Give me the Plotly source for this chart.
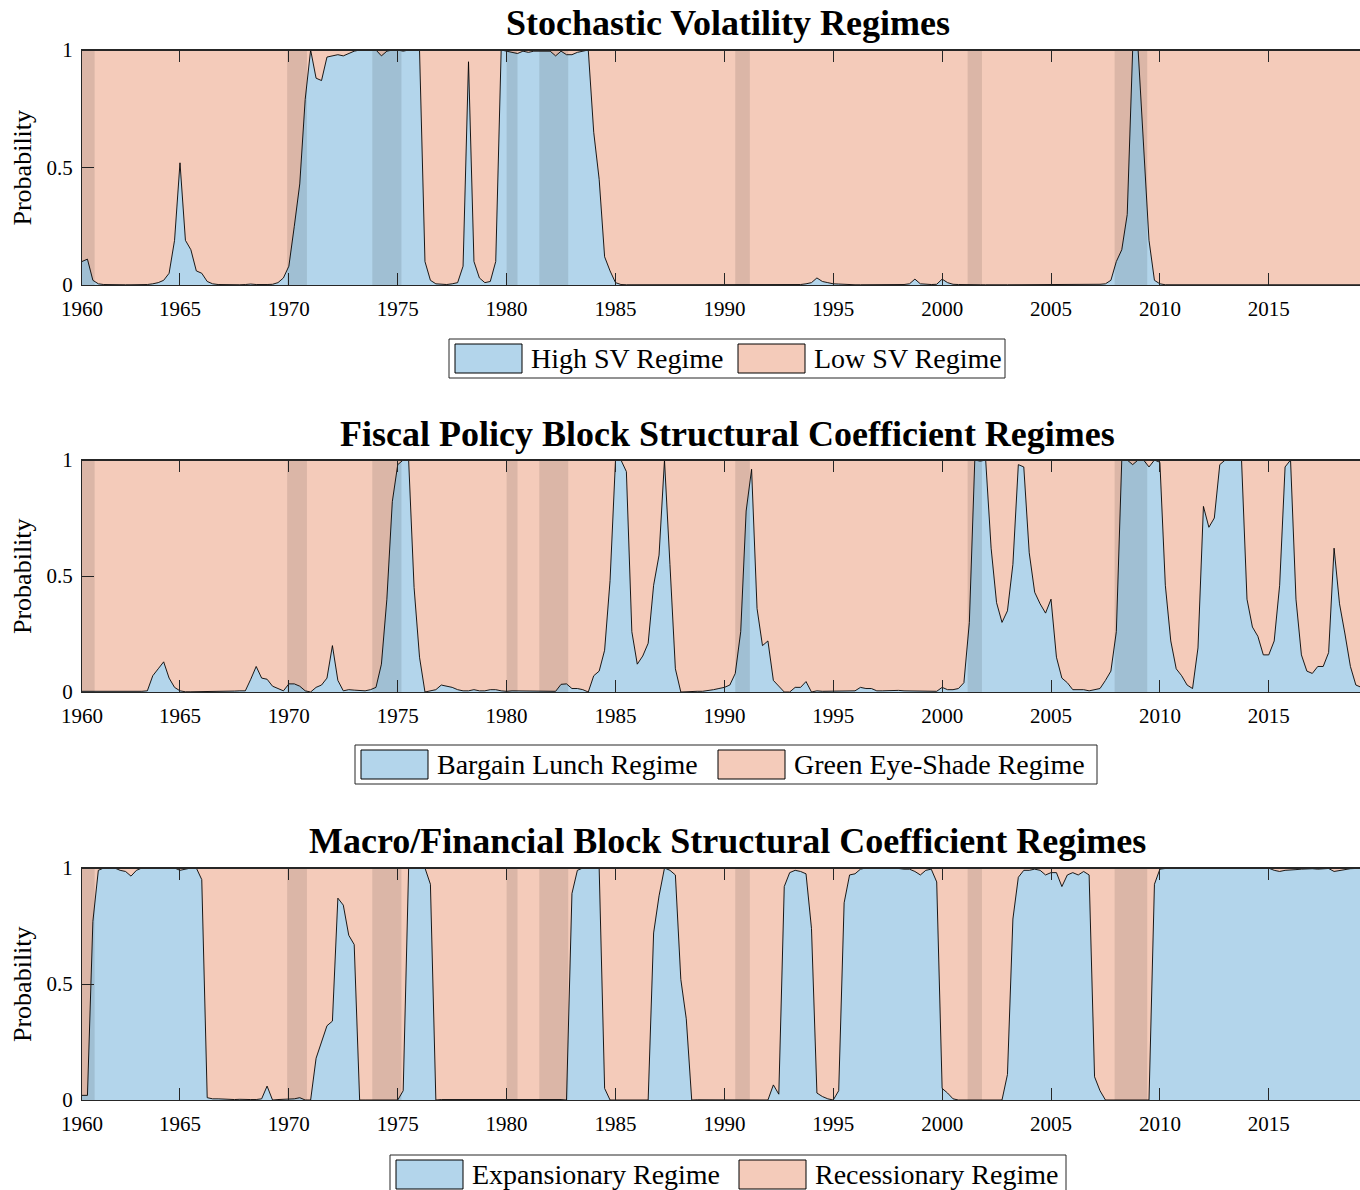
import numpy as np
import plotly.graph_objects as go

# ---------------- data (quarterly, first obs 1960Q3) ----------------
high_sv = [
    0.10, 0.11,                      # 1960 Q3-Q4
    0.02, 0.005, 0.002, 0.001,       # 1961
    0.001, 0.001, 0.001, 0.001,      # 1962
    0.001, 0.002, 0.002, 0.005,      # 1963
    0.01, 0.02, 0.05, 0.19,          # 1964
    0.52, 0.19, 0.15, 0.06,          # 1965
    0.05, 0.015, 0.005, 0.002,       # 1966
    0.001, 0.001, 0.002, 0.001,      # 1967
    0.002, 0.004, 0.002, 0.001,      # 1968
    0.002, 0.003, 0.01, 0.03,        # 1969
    0.08, 0.25, 0.43, 0.79,          # 1970
    1.0, 0.88, 0.87, 0.97,           # 1971
    0.975, 0.98, 0.975, 0.985,       # 1972
    0.995, 1.0, 1.0, 1.0,            # 1973
    1.0, 0.975, 0.995, 1.0,          # 1974
    1.0, 0.995, 1.0, 1.0,            # 1975
    1.0, 0.10, 0.02, 0.005,          # 1976
    0.002, 0.002, 0.005, 0.01,       # 1977
    0.08, 0.95, 0.10, 0.03,          # 1978
    0.01, 0.015, 0.10, 1.0,          # 1979
    0.995, 0.99, 0.985, 0.995,       # 1980
    0.99, 0.995, 0.995, 0.995,       # 1981
    0.995, 0.975, 0.995, 0.98,       # 1982
    0.98, 0.99, 0.995, 1.0,          # 1983
    0.65, 0.45, 0.12, 0.06,          # 1984
    0.01, 0.002, 0.001, 0.001,       # 1985
    0.001, 0.001, 0.001, 0.001,      # 1986
    0.001, 0.001, 0.001, 0.002,      # 1987
    0.002, 0.003, 0.004, 0.003,      # 1988
    0.001, 0.001, 0.001, 0.001,      # 1989
    0.001, 0.001, 0.001, 0.001,      # 1990
    0.001, 0.002, 0.001, 0.002,      # 1991
    0.002, 0.004, 0.002, 0.001,      # 1992
    0.001, 0.001, 0.002, 0.005,      # 1993
    0.01, 0.03, 0.015, 0.01,         # 1994
    0.005, 0.004, 0.002, 0.001,      # 1995
    0.001, 0.001, 0.001, 0.001,      # 1996
    0.001, 0.001, 0.001, 0.001,      # 1997
    0.001, 0.002, 0.005, 0.025,      # 1998
    0.005, 0.002, 0.002, 0.003,      # 1999
    0.025, 0.01, 0.003, 0.002,       # 2000
    0.001, 0.001, 0.001, 0.001,      # 2001
    0.001, 0.002, 0.001, 0.001,      # 2002
    0.001, 0.001, 0.002, 0.001,      # 2003
    0.001, 0.001, 0.001, 0.001,      # 2004
    0.001, 0.002, 0.001, 0.001,      # 2005
    0.001, 0.001, 0.001, 0.001,      # 2006
    0.002, 0.003, 0.005, 0.02,       # 2007
    0.10, 0.15, 0.30, 1.0,           # 2008
    1.0, 0.60, 0.19, 0.02,           # 2009
    0.005, 0.001, 0.001, 0.001,      # 2010
    0.001, 0.001, 0.001, 0.001,      # 2011
    0.001, 0.001, 0.002, 0.001,      # 2012
    0.003, 0.002, 0.001, 0.001,      # 2013
    0.001, 0.001, 0.001, 0.001,      # 2014
    0.001, 0.001, 0.001, 0.002,      # 2015
    0.001, 0.001, 0.001, 0.001,      # 2016
    0.002, 0.004, 0.003, 0.001,      # 2017
    0.001, 0.001, 0.002, 0.001,      # 2018
    0.001, 0.001,                    # 2019 Q1-Q2
]

bargain_lunch = [
    0.003, 0.003,                    # 1960
    0.002, 0.001, 0.001, 0.003,      # 1961
    0.002, 0.001, 0.003, 0.004,      # 1962
    0.004, 0.003, 0.005, 0.07,       # 1963
    0.10, 0.13, 0.06, 0.02,          # 1964
    0.005, 0.001, 0.001, 0.001,      # 1965
    0.001, 0.001, 0.002, 0.001,      # 1966
    0.001, 0.002, 0.004, 0.005,      # 1967
    0.005, 0.055, 0.11, 0.06,        # 1968
    0.055, 0.025, 0.015, 0.005,      # 1969
    0.035, 0.035, 0.025, 0.005,      # 1970
    0.0, 0.02, 0.03, 0.06,           # 1971
    0.20, 0.05, 0.005, 0.01,         # 1972
    0.008, 0.005, 0.005, 0.01,       # 1973
    0.02, 0.12, 0.40, 0.82,          # 1974
    0.98, 1.0, 1.0, 0.45,            # 1975
    0.15, 0.0, 0.005, 0.01,          # 1976
    0.03, 0.025, 0.02, 0.01,         # 1977
    0.005, 0.005, 0.01, 0.005,       # 1978
    0.005, 0.01, 0.01, 0.005,        # 1979
    0.003, 0.005, 0.005, 0.003,      # 1980
    0.005, 0.004, 0.005, 0.003,      # 1981
    0.003, 0.003, 0.033, 0.035,      # 1982
    0.015, 0.015, 0.01, 0.0,         # 1983
    0.07, 0.09, 0.18, 0.48,          # 1984
    1.0, 1.0, 0.95, 0.26,            # 1985
    0.12, 0.155, 0.21, 0.46,         # 1986
    0.59, 1.0, 0.55, 0.10,           # 1987
    0.0, 0.002, 0.002, 0.003,        # 1988
    0.003, 0.005, 0.01, 0.015,       # 1989
    0.02, 0.03, 0.08, 0.26,          # 1990
    0.78, 0.96, 0.36, 0.20,          # 1991
    0.22, 0.05, 0.025, 0.0,          # 1992
    0.0, 0.02, 0.02, 0.045,          # 1993
    0.0, 0.005, 0.003, 0.003,        # 1994
    0.005, 0.003, 0.004, 0.005,      # 1995
    0.005, 0.02, 0.015, 0.015,       # 1996
    0.005, 0.005, 0.006, 0.008,      # 1997
    0.007, 0.005, 0.005, 0.005,      # 1998
    0.003, 0.003, 0.003, 0.003,      # 1999
    0.02, 0.01, 0.01, 0.015,         # 2000
    0.04, 0.30, 1.0, 0.995,          # 2001
    1.0, 0.62, 0.385, 0.30,          # 2002
    0.35, 0.55, 0.98, 0.97,          # 2003
    0.60, 0.43, 0.38, 0.34,          # 2004
    0.40, 0.15, 0.06, 0.04,          # 2005
    0.01, 0.01, 0.01, 0.005,         # 2006
    0.01, 0.015, 0.05, 0.09,         # 2007
    0.26, 1.0, 1.0, 0.98,            # 2008
    1.0, 1.0, 0.97, 1.0,             # 2009
    0.99, 0.46, 0.22, 0.10,          # 2010
    0.07, 0.03, 0.015, 0.19,         # 2011
    0.80, 0.71, 0.75, 0.98,          # 2012
    1.0, 1.0, 1.0, 1.0,              # 2013
    0.40, 0.28, 0.24, 0.16,          # 2014
    0.16, 0.22, 0.46, 0.97,          # 2015
    1.0, 0.40, 0.16, 0.09,           # 2016
    0.08, 0.11, 0.11, 0.17,          # 2017
    0.62, 0.38, 0.25, 0.11,          # 2018
    0.03, 0.02,                      # 2019
]

expansionary = [
    0.02, 0.02,                      # 1960
    0.77, 0.99, 1.0, 1.0,            # 1961
    1.0, 0.99, 0.985, 0.965,         # 1962
    0.99, 1.0, 1.0, 1.0,             # 1963
    1.0, 1.0, 1.0, 1.0,              # 1964
    0.99, 0.995, 1.0, 1.0,           # 1965
    0.95, 0.01, 0.005, 0.005,        # 1966
    0.003, 0.002, 0.002, 0.003,      # 1967
    0.004, 0.002, 0.002, 0.005,      # 1968
    0.06, 0.0, 0.002, 0.002,         # 1969
    0.002, 0.005, 0.01, 0.0,         # 1970
    0.0, 0.18, 0.25, 0.32,           # 1971
    0.34, 0.87, 0.84, 0.71,          # 1972
    0.67, 0.0, 0.0, 0.0,             # 1973
    0.0, 0.0, 0.0, 0.0,              # 1974
    0.0, 0.04, 1.0, 1.0,             # 1975
    1.0, 1.0, 0.93, 0.0,             # 1976
    0.002, 0.002, 0.003, 0.003,      # 1977
    0.002, 0.002, 0.002, 0.002,      # 1978
    0.002, 0.002, 0.002, 0.002,      # 1979
    0.003, 0.002, 0.002, 0.002,      # 1980
    0.003, 0.003, 0.005, 0.003,      # 1981
    0.002, 0.002, 0.002, 0.0,        # 1982
    0.89, 0.99, 1.0, 1.0,            # 1983
    1.0, 1.0, 0.05, 0.0,             # 1984
    0.0, 0.0, 0.001, 0.001,          # 1985
    0.001, 0.001, 0.0, 0.72,         # 1986
    0.88, 1.0, 0.99, 0.97,           # 1987
    0.52, 0.35, 0.0, 0.001,          # 1988
    0.001, 0.001, 0.001, 0.001,      # 1989
    0.002, 0.001, 0.001, 0.003,      # 1990
    0.002, 0.002, 0.001, 0.002,      # 1991
    0.0, 0.065, 0.025, 0.92,         # 1992
    0.98, 0.99, 0.985, 0.975,        # 1993
    0.74, 0.03, 0.015, 0.005,        # 1994
    0.0, 0.04, 0.85, 0.97,           # 1995
    0.975, 0.995, 1.0, 1.0,          # 1996
    1.0, 1.0, 1.0, 0.998,            # 1997
    0.998, 0.995, 0.995, 0.985,      # 1998
    0.97, 0.99, 0.995, 0.94,         # 1999
    0.05, 0.03, 0.005, 0.0,          # 2000
    0.0, 0.0, 0.0, 0.0,              # 2001
    0.0, 0.0, 0.0, 0.0,              # 2002
    0.11, 0.78, 0.96, 0.99,          # 2003
    0.99, 0.995, 0.99, 0.97,         # 2004
    0.98, 0.98, 0.92, 0.97,          # 2005
    0.98, 0.97, 0.985, 0.97,         # 2006
    0.10, 0.04, 0.0, 0.0,            # 2007
    0.0, 0.0, 0.0, 0.0,              # 2008
    0.0, 0.0, 0.0, 0.93,             # 2009
    0.995, 0.998, 0.998, 0.999,      # 2010
    0.999, 0.999, 0.998, 0.999,      # 2011
    0.999, 0.999, 0.998, 0.999,      # 2012
    0.999, 0.998, 0.999, 0.997,      # 2013
    0.998, 0.999, 0.999, 0.998,      # 2014
    0.999, 0.99, 0.985, 0.99,        # 2015
    0.99, 0.993, 0.995, 0.997,       # 2016
    0.997, 0.995, 0.997, 0.998,      # 2017
    0.985, 0.99, 0.995, 0.997,       # 2018
    0.998, 0.999,                    # 2019
]

first_quarter = 1960.5
assert len(high_sv) == len(bargain_lunch) == len(expansionary), (
    len(high_sv), len(bargain_lunch), len(expansionary))

# NBER recessions (decimal years)
rec_start = [1960.25, 1969.92, 1973.83, 1980.0, 1981.5, 1990.5, 2001.17, 2007.92]
rec_end = [1961.08, 1970.83, 1975.17, 1980.5, 1982.83, 1991.17, 2001.83, 2009.42]

tick_vals = [1960.5, 1965, 1970, 1975, 1980, 1985, 1990, 1995, 2000, 2005, 2010, 2015]
tick_text = ["1960", "1965", "1970", "1975", "1980", "1985", "1990", "1995",
             "2000", "2005", "2010", "2015"]

panel_titles = ["Stochastic Volatility Regimes",
                "Fiscal Policy Block Structural Coefficient Regimes",
                "Macro/Financial Block Structural Coefficient Regimes"]
legend_names = [("High SV Regime", "Low SV Regime"),
                ("Bargain Lunch Regime", "Green Eye-Shade Regime"),
                ("Expansionary Regime", "Recessionary Regime")]
series = [high_sv, bargain_lunch, expansionary]

# ---------------- styling ----------------
W, H = 1360, 1190
ML, MR, MT, MB = 82, 0, 50, 90
PW, PH = W - ML - MR, H - MT - MB
FONT = "Liberation Serif"
BLUE = "rgb(179,213,235)"
PINK = "rgb(244,203,186)"
AXC = "#262626"
X_RANGE = [1960.5, 2019.19]

def px_x(px):
    return (px - ML) / PW

def px_y(py):
    return (H - MB - py) / PH

panel_px = [(50, 285), (460, 692), (868, 1100)]
title_py = [23, 434, 841]
legend_px = [
    dict(box=(449, 1005, 339, 378), s1=455, t1=529, s2=738, t2=812),
    dict(box=(355, 1097, 745, 784), s1=361, t1=435, s2=718, t2=792),
    dict(box=(390, 1066, 1155, 1194), s1=396, t1=470, s2=739, t2=813),
]
SW = 67  # swatch width px

dates = first_quarter + 0.25 * np.arange(len(high_sv))

fig = go.Figure()
shapes = []
annotations = []

for i, (vals, names) in enumerate(zip(series, legend_names)):
    k = "" if i == 0 else str(i + 1)
    xa, ya = "x" + k, "y" + k
    p = np.array(vals, dtype=float)
    fig.add_trace(go.Scatter(
        x=dates, y=p, xaxis=xa, yaxis=ya, stackgroup="g%d" % i,
        mode="lines", line=dict(color="black", width=0.9),
        fillcolor=BLUE, name=names[0], showlegend=False, hoverinfo="skip"))
    fig.add_trace(go.Scatter(
        x=dates, y=1.0 - p, xaxis=xa, yaxis=ya, stackgroup="g%d" % i,
        mode="lines", line=dict(color="black", width=0.9),
        fillcolor=PINK, name=names[1], showlegend=False, hoverinfo="skip"))

    top, bot = panel_px[i]
    dom = [px_y(bot), px_y(top)]
    axis_x = dict(domain=[0, 1], range=X_RANGE, anchor=ya,
                  tickmode="array", tickvals=tick_vals, ticktext=tick_text,
                  ticks="inside", ticklen=12, tickwidth=1, tickcolor=AXC,
                  showline=True, linecolor=AXC, linewidth=1, mirror="ticks",
                  showgrid=False, zeroline=False, ticklabelstandoff=5,
                  tickfont=dict(family=FONT, size=21, color="black"))
    axis_y = dict(domain=dom, range=[0, 1], anchor=xa,
                  tickmode="array", tickvals=[0, 0.5, 1], ticktext=["0", "0.5", "1"],
                  ticks="inside", ticklen=12, tickwidth=1, tickcolor=AXC,
                  showline=True, linecolor=AXC, linewidth=1, mirror=False,
                  showgrid=False, zeroline=False, ticklabelstandoff=4,
                  tickfont=dict(family=FONT, size=21, color="black"))
    fig.update_layout(**{"xaxis" + k: axis_x, "yaxis" + k: axis_y})

    # recession shading
    for s, e in zip(rec_start, rec_end):
        shapes.append(dict(type="rect", xref=xa, yref=ya + " domain",
                           x0=max(s, X_RANGE[0]), x1=e, y0=0, y1=1,
                           fillcolor="rgba(0,0,0,0.1)", line=dict(width=0),
                           layer="above"))
    # heavier top frame
    shapes.append(dict(type="line", xref=xa + " domain", yref=ya + " domain",
                       x0=0, x1=1, y0=1, y1=1, line=dict(color=AXC, width=2),
                       layer="above"))

    # panel title
    annotations.append(dict(text="<b>%s</b>" % panel_titles[i], xref="paper", yref="paper",
                            x=px_x(727.5), y=px_y(title_py[i]), xanchor="center",
                            yanchor="middle", showarrow=False,
                            font=dict(family=FONT, size=36, color="black")))
    # y label
    annotations.append(dict(text="Probability", xref="paper", yref="paper",
                            x=px_x(22), y=px_y((top + bot) / 2), xanchor="center",
                            yanchor="middle", textangle=-90, showarrow=False,
                            font=dict(family=FONT, size=26, color="black")))

    # legend box
    lg = legend_px[i]
    bx0, bx1, by0, by1 = lg["box"]
    shapes.append(dict(type="rect", xref="paper", yref="paper",
                       x0=px_x(bx0), x1=px_x(bx1), y0=px_y(by1), y1=px_y(by0),
                       fillcolor="white", line=dict(color=AXC, width=1), layer="above"))
    sy0, sy1 = by0 + 5, by1 - 5
    for sx, col in ((lg["s1"], BLUE), (lg["s2"], PINK)):
        shapes.append(dict(type="rect", xref="paper", yref="paper",
                           x0=px_x(sx), x1=px_x(sx + SW), y0=px_y(sy1), y1=px_y(sy0),
                           fillcolor=col, line=dict(color="black", width=1), layer="above"))
    ymid = px_y((by0 + by1) / 2)
    for tx, name in ((lg["t1"], names[0]), (lg["t2"], names[1])):
        annotations.append(dict(text=name, xref="paper", yref="paper",
                                x=px_x(tx), y=ymid, xanchor="left", yanchor="middle",
                                showarrow=False,
                                font=dict(family=FONT, size=28, color="black")))

fig.update_layout(
    width=W, height=H, margin=dict(l=ML, r=MR, t=MT, b=MB, pad=0),
    paper_bgcolor="white", plot_bgcolor="white", showlegend=False,
    shapes=shapes, annotations=annotations,
    font=dict(family=FONT, color="black"),
)

fig.write_html("out.html")
